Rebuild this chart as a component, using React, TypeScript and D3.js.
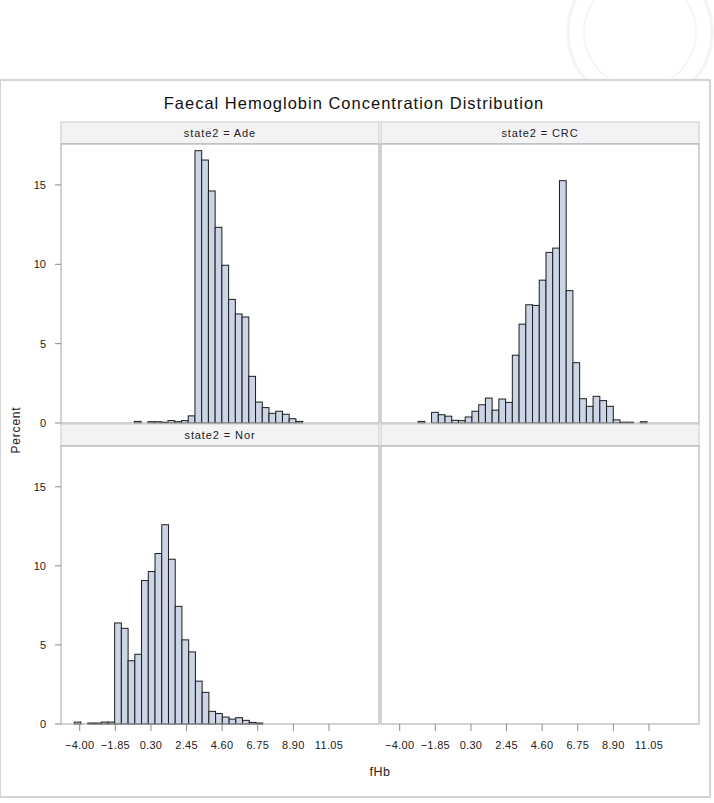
import React from 'react'
import * as d3 from 'd3'

// histogram percentages per bin
const binWidth = 0.4064
const adeStart = -0.7
const adePct = [0.1, 0, 0.08, 0.08, 0.05, 0.15, 0.08, 0.15, 0.45, 17.16, 16.57, 14.62, 12.33, 9.94, 7.79, 6.87, 6.68, 2.94, 1.32, 0.97, 0.61, 0.74, 0.55, 0.27, 0.1]
const crcStart = -2.89
const crcPct = [0.1, 0, 0.67, 0.52, 0.43, 0.17, 0.15, 0.38, 0.74, 1.15, 1.57, 0.81, 1.51, 1.3, 4.27, 6.23, 7.45, 7.41, 9.0, 10.75, 11.02, 15.27, 8.34, 3.8, 1.53, 1.05, 1.68, 1.41, 1.05, 0.2, 0.05, 0.05, 0, 0.08]
const norStart = -4.33
const norPct = [0.12, 0, 0.06, 0.06, 0.12, 0.12, 6.39, 6.05, 4.0, 4.41, 9.07, 9.64, 10.78, 12.6, 10.42, 7.44, 5.32, 4.56, 2.71, 2.0, 0.8, 0.66, 0.44, 0.31, 0.4, 0.23, 0.1, 0.06]

const xTicks = [-4, -1.85, 0.3, 2.45, 4.6, 6.75, 8.9, 11.05]
const yTicks = [0, 5, 10, 15]

const title = 'Faecal Hemoglobin Concentration Distribution'
const xLabel = 'fHb'
const yLabel = 'Percent'

const panels = [
  { label: 'state2 = Ade', col: 0, row: 0, start: adeStart, pct: adePct },
  { label: 'state2 = CRC', col: 1, row: 0, start: crcStart, pct: crcPct },
  { label: 'state2 = Nor', col: 0, row: 1, start: norStart, pct: norPct },
  { label: '', col: 1, row: 1, start: 0, pct: [] as number[] },
]

const colX = [61, 381]
const panelW = 318
const headerY = [122, 424]
const headerH = 22
const plotBottom = [423, 724]

const font = '"Liberation Sans", Arial, sans-serif'
const fmt = d3.format('.2f')

const App = () => {
  const xScales = colX.map((x0) => d3.scaleLinear().domain([-5.13, 14.07]).range([x0, x0 + panelW]))
  const yScales = headerY.map((hy, i) => d3.scaleLinear().domain([0, 17.58]).range([plotBottom[i], hy + headerH]))

  return (
    <svg width={714} height={803} style={{ position: 'absolute', left: 0, top: 0, background: '#fff' }} fontFamily={font}>
      {/* faint seal watermark */}
      <g opacity={0.06} fill="none" stroke="#555">
        <circle cx={640} cy={32} r={72} strokeWidth={3} />
        <circle cx={640} cy={32} r={56} strokeWidth={1.5} />
      </g>
      <rect x={0} y={80} width={710} height={717} fill="#fff" stroke="#d4d4d4" strokeWidth={2} />
      <text x={354} y={109} textAnchor="middle" fontSize={16.5} letterSpacing={1} fill="#111">{title}</text>

      {panels.map((p, k) => {
        const x = xScales[p.col]
        const y = yScales[p.row]
        const x0 = colX[p.col]
        const hy = headerY[p.row]
        return (
          <g key={k}>
            <rect x={x0} y={hy} width={panelW} height={headerH} fill="#f3f3f5" stroke="#c9c9c9" />
            <text x={x0 + panelW / 2} y={hy + 15} textAnchor="middle" fontSize={11} letterSpacing={0.9} fill="#222">{p.label}</text>
            <rect x={x0} y={hy + headerH} width={panelW} height={plotBottom[p.row] - hy - headerH} fill="#fff" />
            {p.pct.map((v, i) =>
              v > 0 ? (
                <rect
                  key={i}
                  x={x(p.start + i * binWidth)}
                  y={y(v)}
                  width={x(p.start + (i + 1) * binWidth) - x(p.start + i * binWidth)}
                  height={y(0) - y(v)}
                  fill="#cbd5e6"
                  stroke="#1c1c1c"
                  strokeWidth={1}
                />
              ) : null
            )}
            <rect x={x0} y={hy + headerH} width={panelW} height={plotBottom[p.row] - hy - headerH} fill="none" stroke="#a6a6a6" />
          </g>
        )
      })}

      {/* y axes */}
      {headerY.map((_, r) => (
        <g key={r}>
          {yTicks.map((t) => (
            <g key={t}>
              <line x1={55} x2={61} y1={yScales[r](t)} y2={yScales[r](t)} stroke="#888" />
              <text x={46} y={yScales[r](t) + 4} textAnchor="end" fontSize={11} fill="#222">{t}</text>
            </g>
          ))}
        </g>
      ))}
      <text transform="translate(20,430) rotate(-90)" textAnchor="middle" fontSize={12} letterSpacing={0.8} fill="#222">{yLabel}</text>

      {/* x axes */}
      {colX.map((_, c) => (
        <g key={c}>
          {xTicks.map((t) => (
            <g key={t}>
              <line x1={xScales[c](t)} x2={xScales[c](t)} y1={724} y2={731} stroke="#888" />
              <text x={xScales[c](t)} y={749} textAnchor="middle" fontSize={11} letterSpacing={0.3} fill="#222">{fmt(t)}</text>
            </g>
          ))}
        </g>
      ))}
      <text x={380} y={776} textAnchor="middle" fontSize={12.5} letterSpacing={0.5} fill="#222">{xLabel}</text>
    </svg>
  )
}

export default App
